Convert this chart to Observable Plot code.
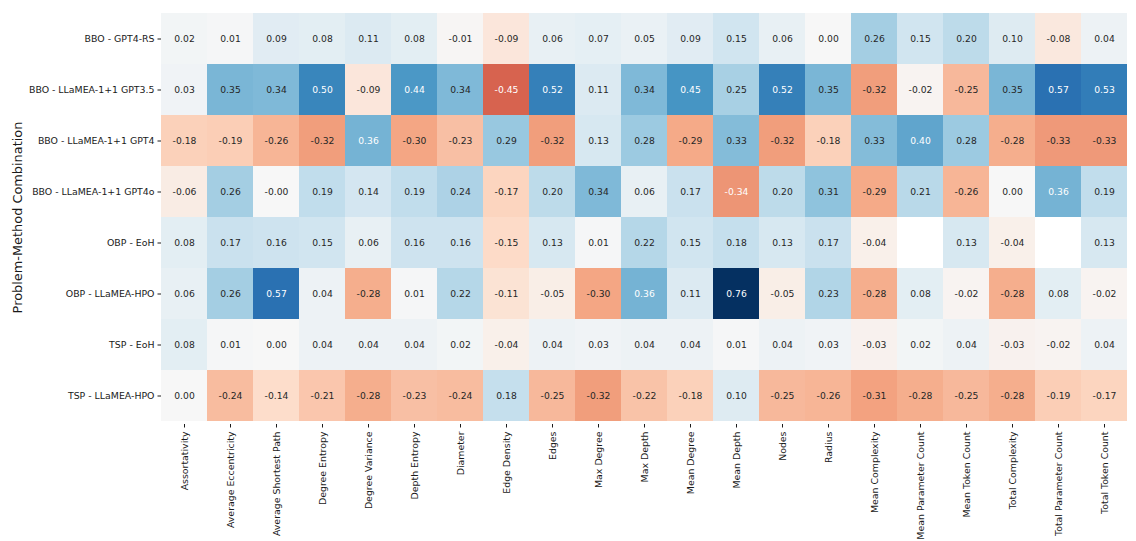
<!DOCTYPE html>
<html>
<head>
<meta charset="utf-8">
<script src="https://cdn.jsdelivr.net/npm/d3@7"></script>
<script src="https://cdn.jsdelivr.net/npm/@observablehq/plot@0.6"></script>
<style>
  html, body { margin: 0; padding: 0; background: #fff; }
  #chart { width: 1136px; height: 541px; }
</style>
</head>
<body>
<div id="chart"></div>
<script>
const columns = ["Assortativity", "Average Eccentricity", "Average Shortest Path", "Degree Entropy", "Degree Variance", "Depth Entropy", "Diameter", "Edge Density", "Edges", "Max Degree", "Max Depth", "Mean Degree", "Mean Depth", "Nodes", "Radius", "Mean Complexity", "Mean Parameter Count", "Mean Token Count", "Total Complexity", "Total Parameter Count", "Total Token Count"];

const rows = ["BBO - GPT4-RS", "BBO - LLaMEA-1+1 GPT3.5", "BBO - LLaMEA-1+1 GPT4", "BBO - LLaMEA-1+1 GPT4o", "OBP - EoH", "OBP - LLaMEA-HPO", "TSP - EoH", "TSP - LLaMEA-HPO"];

const bboGpt4RS      = [0.02, 0.01, 0.09, 0.08, 0.11, 0.08, -0.01, -0.09, 0.06, 0.07, 0.05, 0.09, 0.15, 0.06, 0.00, 0.26, 0.15, 0.20, 0.10, -0.08, 0.04];
const bboLlameaGpt35 = [0.03, 0.35, 0.34, 0.50, -0.09, 0.44, 0.34, -0.45, 0.52, 0.11, 0.34, 0.45, 0.25, 0.52, 0.35, -0.32, -0.02, -0.25, 0.35, 0.57, 0.53];
const bboLlameaGpt4  = [-0.18, -0.19, -0.26, -0.32, 0.36, -0.30, -0.23, 0.29, -0.32, 0.13, 0.28, -0.29, 0.33, -0.32, -0.18, 0.33, 0.40, 0.28, -0.28, -0.33, -0.33];
const bboLlameaGpt4o = [-0.06, 0.26, -0.00, 0.19, 0.14, 0.19, 0.24, -0.17, 0.20, 0.34, 0.06, 0.17, -0.34, 0.20, 0.31, -0.29, 0.21, -0.26, 0.00, 0.36, 0.19];
const obpEoH         = [0.08, 0.17, 0.16, 0.15, 0.06, 0.16, 0.16, -0.15, 0.13, 0.01, 0.22, 0.15, 0.18, 0.13, 0.17, -0.04, null, 0.13, -0.04, null, 0.13];
const obpLlameaHPO   = [0.06, 0.26, 0.57, 0.04, -0.28, 0.01, 0.22, -0.11, -0.05, -0.30, 0.36, 0.11, 0.76, -0.05, 0.23, -0.28, 0.08, -0.02, -0.28, 0.08, -0.02];
const tspEoH         = [0.08, 0.01, 0.00, 0.04, 0.04, 0.04, 0.02, -0.04, 0.04, 0.03, 0.04, 0.04, 0.01, 0.04, 0.03, -0.03, 0.02, 0.04, -0.03, -0.02, 0.04];
const tspLlameaHPO   = [0.00, -0.24, -0.14, -0.21, -0.28, -0.23, -0.24, 0.18, -0.25, -0.32, -0.22, -0.18, 0.10, -0.25, -0.26, -0.31, -0.28, -0.25, -0.28, -0.19, -0.17];

const rowValues = [bboGpt4RS, bboLlameaGpt35, bboLlameaGpt4, bboLlameaGpt4o, obpEoH, obpLlameaHPO, tspEoH, tspLlameaHPO];
const yLabel = "Problem-Method Combination";

const cells = [];
rows.forEach((r, i) => columns.forEach((c, j) => {
  const v = rowValues[i][j];
  if (v !== null && v !== undefined) cells.push({row: r, col: c, value: v});
}));

// Matplotlib RdBu (ColorBrewer anchors, linear segments)
const rdbuStops = ["#67001f", "#b2182b", "#d6604d", "#f4a582", "#fddbc7", "#f7f7f7", "#d1e5f0", "#92c5de", "#4393c3", "#2166ac", "#053061"];
const rdbu = d3.piecewise(d3.interpolateRgb, rdbuStops);
const vmax = d3.max(cells, d => Math.abs(d.value));
const norm = v => (v + vmax) / (2 * vmax);

function relLum(col) {
  const c = d3.rgb(col);
  const f = x => { x /= 255; return x <= 0.03928 ? x / 12.92 : Math.pow((x + 0.055) / 1.055, 2.4); };
  return 0.2126 * f(c.r) + 0.7152 * f(c.g) + 0.0722 * f(c.b);
}
const textColor = d => relLum(rdbu(norm(d.value))) > 0.408 ? "#262626" : "#ffffff";
const fmt = v => (v < 0 || Object.is(v, -0) ? "-" : "") + Math.abs(v).toFixed(2);

const plot = Plot.plot({
  width: 1136,
  height: 541,
  marginTop: 10,
  marginLeft: 161,
  marginRight: 9,
  marginBottom: 117,
  style: {fontFamily: "DejaVu Sans", fontSize: "9.4px", color: "#1a1a1a", background: "#fff"},
  x: {domain: columns, padding: 0, label: null},
  y: {domain: rows, padding: 0, label: null},
  color: {type: "linear", domain: [-vmax, vmax], interpolate: () => rdbu},
  marks: [
    Plot.cell(cells, {x: "col", y: "row", fill: "value", inset: 0, shapeRendering: "crispEdges"}),
    Plot.text(cells, {x: "col", y: "row", text: d => fmt(d.value), fill: textColor, fontSize: 9.2}),
    Plot.axisX({tickRotate: -90, tickSize: 3.5, tickPadding: 3.5, label: null, fontSize: 9.4}),
    Plot.axisY({tickSize: 3.5, tickPadding: 3.5, label: null, fontSize: 9.4}),
    Plot.text([yLabel], {frameAnchor: "left", textAnchor: "middle", rotate: -90, dx: -144, fontSize: 12.9, fill: "#1a1a1a"})
  ]
});
document.getElementById("chart").appendChild(plot);
</script>
</body>
</html>
